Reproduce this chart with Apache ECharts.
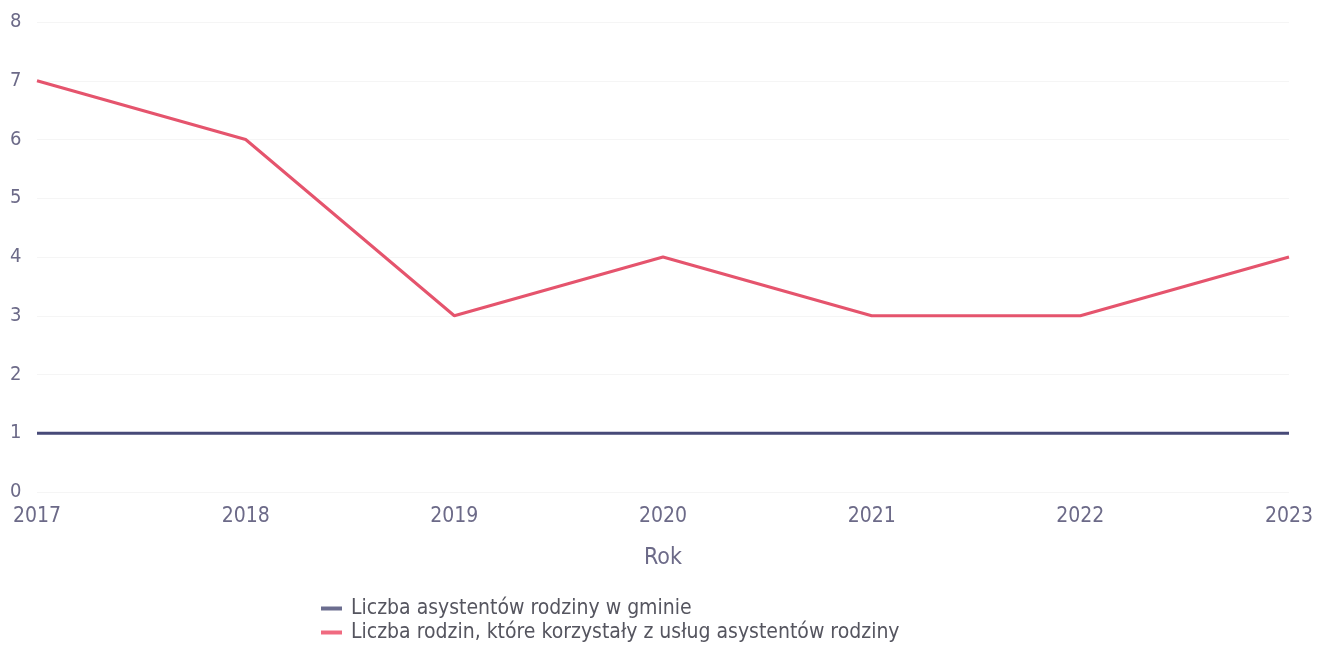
<!DOCTYPE html>
<html><head><meta charset="utf-8">
<script src="https://cdn.jsdelivr.net/npm/echarts@6/dist/echarts.min.js"></script>
<style>html,body{margin:0;padding:0;background:#fff}#c{width:1323px;height:645px}</style>
</head><body><div id="c"></div>
<script>
const years = ['2017','2018','2019','2020','2021','2022','2023'];
const assistants = [1, 1, 1, 1, 1, 1, 1];
const families = [7, 6, 3, 4, 3, 3, 4];
const yTicks = [0, 8, 1];
const seriesNames = ['Liczba asystentów rodziny w gminie', 'Liczba rodzin, które korzystały z usług asystentów rodziny'];

const chart = echarts.init(document.getElementById('c'));
const txt = '#6c6a88';
const ff = 'DejaVu Sans Condensed';
chart.setOption({
  animation: false,
  grid: {left: 37, right: 34, top: 22, bottom: 153},
  xAxis: {
    type: 'category', data: years, boundaryGap: false,
    name: 'Rok', nameLocation: 'middle', nameGap: 55,
    nameTextStyle: {fontSize: 23, color: txt, fontFamily: ff},
    axisLine: {show: false}, axisTick: {show: false},
    axisLabel: {fontSize: 21, color: txt, margin: 14, fontFamily: ff},
    splitLine: {show: false}
  },
  yAxis: {
    type: 'value', min: yTicks[0], max: yTicks[1], interval: yTicks[2],
    axisLine: {show: false}, axisTick: {show: false},
    axisLabel: {fontSize: 20, color: txt, align: 'left', margin: 27, fontFamily: ff},
    splitLine: {lineStyle: {color: '#f5f5f5', width: 1}}
  },
  legend: {
    orient: 'vertical', left: 321, top: 598, itemGap: 3, padding: 0,
    icon: 'rect', itemWidth: 21, itemHeight: 4,
    textStyle: {fontSize: 21, color: '#55555f', fontFamily: ff, padding: [0, 0, 0, 4]},
    data: seriesNames
  },
  series: [
    {name: seriesNames[0], type: 'line', data: assistants, symbol: 'none',
     lineStyle: {color: '#474a78', width: 3}, itemStyle: {color: '#6b6d8f'}},
    {name: seriesNames[1], type: 'line', data: families, symbol: 'none',
     lineStyle: {color: '#e5546d', width: 3}, itemStyle: {color: '#f06a80'}}
  ]
});
</script></body></html>
